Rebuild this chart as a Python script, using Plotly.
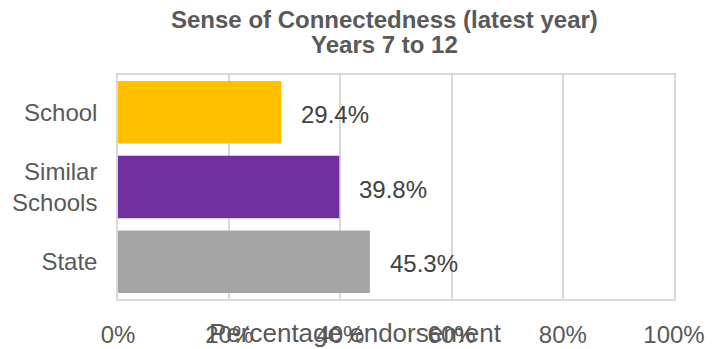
import plotly.graph_objects as go

categories = ["School", "Similar<br>Schools", "State"]
values = [29.4, 39.8, 45.3]
labels = ["29.4%", "39.8%", "45.3%"]
colors = ["#FFC000", "#7030A0", "#A5A5A5"]
x_ticks = [0, 20, 40, 60, 80, 100]
x_ticktext = ["0%", "20%", "40%", "60%", "80%", "100%"]

FONT = "Liberation Sans, Arial, sans-serif"
GRID = "#D9D9D9"

fig = go.Figure()
fig.add_trace(go.Bar(
    x=values, y=categories, orientation="h",
    marker=dict(color=colors, line=dict(width=0)),
    hoverinfo="skip",
))

for v, c, t in zip(values, categories, labels):
    fig.add_annotation(x=v, y=c, text=t, showarrow=False, xanchor="left",
                       xshift=18, yshift=-2,
                       font=dict(family=FONT, size=24, color="#404040"))

fig.add_annotation(xref="paper", yref="paper", x=(355 - 118) / 556, y=0, yshift=-34,
                   yanchor="middle", xanchor="center",
                   text="Percentage endorsement", showarrow=False,
                   font=dict(family=FONT, size=26, color="#595959"))

fig.add_annotation(xref="paper", yref="paper", x=(384 - 118) / 556, y=1,
                   yshift=56, yanchor="middle", xanchor="center",
                   text="<b>Sense of Connectedness (latest year)</b>", showarrow=False,
                   font=dict(family=FONT, size=24, color="#595959"))
fig.add_annotation(xref="paper", yref="paper", x=(384 - 118) / 556, y=1,
                   yshift=31, yanchor="middle", xanchor="center",
                   text="<b>Years 7 to 12</b>", showarrow=False,
                   font=dict(family=FONT, size=24, color="#595959"))

fig.update_layout(
    width=719, height=349,
    margin=dict(l=118, r=45, t=75, b=50, autoexpand=False),
    paper_bgcolor="white", plot_bgcolor="white",
    showlegend=False,
    bargap=0.164,
    font=dict(family=FONT, size=24, color="#595959"),
)
fig.update_xaxes(
    range=[0, 100], tickvals=x_ticks, ticktext=x_ticktext,
    showgrid=True, gridcolor=GRID, gridwidth=1.5,
    showline=True, linecolor=GRID, linewidth=1.5, mirror=True,
    zeroline=False, ticks="", ticklabelstandoff=13, automargin=False,
    tickfont=dict(family=FONT, size=24, color="#595959"),
)
fig.update_yaxes(
    autorange="reversed", automargin=False,
    showgrid=False, showline=True, linecolor=GRID, linewidth=1.5, mirror=True,
    ticks="", ticklabelstandoff=14,
    tickfont=dict(family=FONT, size=24, color="#595959"),
)

fig.write_html("out.html")
